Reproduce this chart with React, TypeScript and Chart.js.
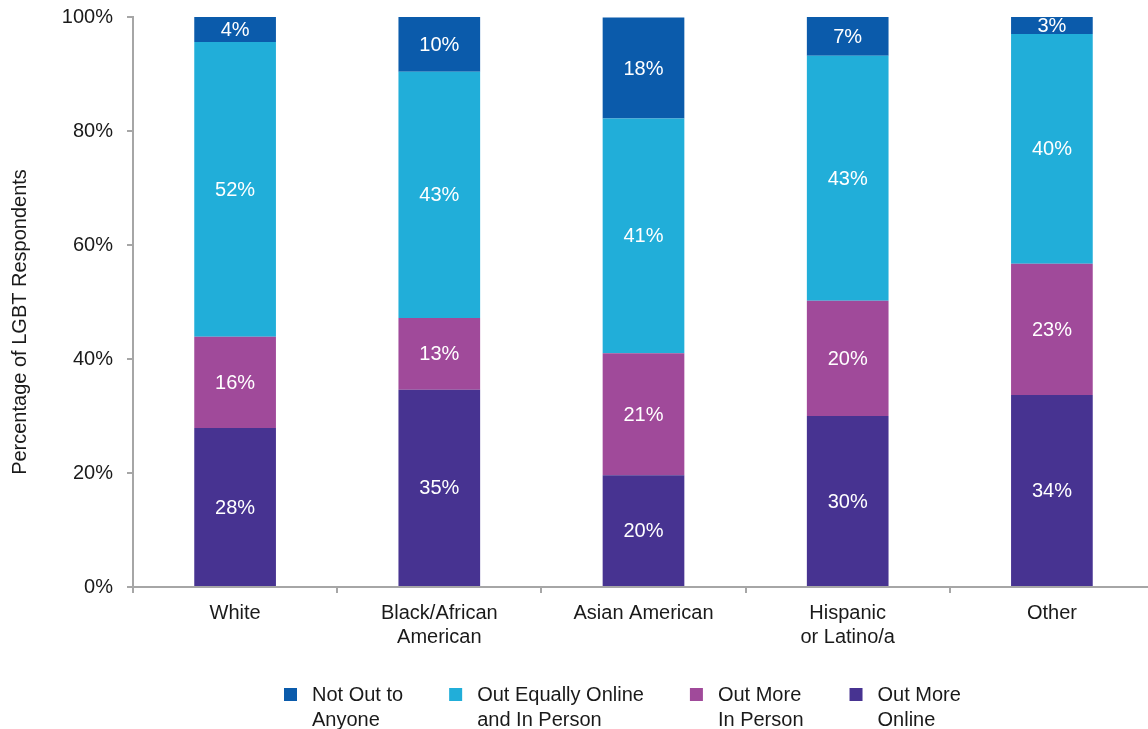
import React, { useEffect, useRef } from "react";
import { Chart, registerables } from "chart.js";

Chart.register(...registerables);

// ---- Data ----
const categories: string[][] = [
  ["White"],
  ["Black/African", "American"],
  ["Asian American"],
  ["Hispanic", "or Latino/a"],
  ["Other"],
];
const outMoreOnline = [27.9, 34.6, 19.6, 30.0, 33.7];
const outMoreInPerson = [16.0, 12.6, 21.4, 20.2, 23.0];
const outEquallyOnlineInPerson = [51.7, 43.2, 41.2, 43.0, 40.3];
const notOutToAnyone = [4.4, 9.6, 17.7, 6.8, 3.0];

const seriesLabels = [
  "Out More Online",
  "Out More In Person",
  "Out Equally Online and In Person",
  "Not Out to Anyone",
];
const legendLines: string[][] = [
  ["Out More", "Online"],
  ["Out More", "In Person"],
  ["Out Equally Online", "and In Person"],
  ["Not Out to", "Anyone"],
];
const seriesColors = ["#473391", "#a04a9a", "#21aed9", "#0b5bab"];
const yTicks = [0, 20, 40, 60, 80, 100];
const yTitle = "Percentage of LGBT Respondents";

const FONT = "'Liberation Sans', Arial, sans-serif";
const TEXT = "#1a1a1a";
const AXIS = "#a6a6a6";

const labelsPlugin = {
  id: "segLabels",
  afterDatasetsDraw(chart: any) {
    const ctx = chart.ctx;
    ctx.save();
    ctx.fillStyle = "#ffffff";
    ctx.font = `20px ${FONT}`;
    ctx.textAlign = "center";
    ctx.textBaseline = "middle";
    chart.data.datasets.forEach((ds: any, i: number) => {
      const meta = chart.getDatasetMeta(i);
      meta.data.forEach((el: any, j: number) => {
        const v = ds.data[j] as number;
        const y = (el.y + el.base) / 2;
        ctx.fillText(`${Math.round(v)}%`, el.x, y + 1);
      });
    });
    ctx.restore();
  },
};

const decorPlugin = {
  id: "decor",
  afterDraw(chart: any) {
    const ctx = chart.ctx;
    const area = chart.chartArea;
    ctx.save();
    // y-axis title
    ctx.fillStyle = TEXT;
    ctx.font = `20px ${FONT}`;
    ctx.textAlign = "center";
    ctx.textBaseline = "middle";
    ctx.translate(20, (area.top + area.bottom) / 2 + 20);
    ctx.rotate(-Math.PI / 2);
    ctx.fillText(yTitle, 0, 0);
    ctx.restore();

    // legend (reverse of stack order)
    ctx.save();
    ctx.font = `20px ${FONT}`;
    ctx.textAlign = "left";
    ctx.textBaseline = "middle";
    const n = chart.data.datasets.length;
    let x = area.left + 151;
    const y0 = area.bottom + 108;
    const box = 13;
    for (let k = n - 1; k >= 0; k--) {
      const ds = chart.data.datasets[k];
      const lines = legendLines[k];
      ctx.fillStyle = ds.backgroundColor;
      ctx.fillRect(x, y0 - 7, box, box);
      ctx.fillStyle = TEXT;
      let w = 0;
      lines.forEach((ln, li) => {
        ctx.fillText(ln, x + 28, y0 + li * 25);
        w = Math.max(w, ctx.measureText(ln).width);
      });
      x = x + 28 + w + 46;
    }
    ctx.restore();
  },
};

export default function App() {
  const ref = useRef<HTMLCanvasElement | null>(null);
  useEffect(() => {
    if (!ref.current) return;
    const values = [outMoreOnline, outMoreInPerson, outEquallyOnlineInPerson, notOutToAnyone];
    const chart = new Chart(ref.current, {
      type: "bar",
      data: {
        labels: categories as any,
        datasets: values.map((d, i) => ({
          label: seriesLabels[i],
          data: d,
          backgroundColor: seriesColors[i],
          borderWidth: 0,
          categoryPercentage: 1,
          barPercentage: 0.4,
        })),
      },
      options: {
        responsive: false,
        animation: false,
        devicePixelRatio: 1,
        layout: { padding: { top: 17, right: 6, left: 0, bottom: 0 } },
        plugins: {
          legend: { display: false },
          tooltip: { enabled: false },
        },
        scales: {
          x: {
            stacked: true,
            grid: {
              drawOnChartArea: false,
              offset: true,
              tickLength: 6,
              color: AXIS,
              lineWidth: 2,
            },
            border: { color: AXIS, width: 2 },
            ticks: {
              color: TEXT,
              font: { family: FONT, size: 20, lineHeight: 1.2 },
              padding: 8,
              maxRotation: 0,
              autoSkip: false,
            },
            afterFit: (s: any) => {
              s.height = 142;
              s.paddingLeft = 0;
              s.paddingRight = 0;
            },
          },
          y: {
            stacked: true,
            min: 0,
            max: 100,
            afterBuildTicks: (s: any) => {
              s.ticks = yTicks.map((v) => ({ value: v }));
            },
            grid: {
              drawOnChartArea: false,
              tickLength: 6,
              color: AXIS,
              lineWidth: 2,
            },
            border: { color: AXIS, width: 2 },
            ticks: {
              color: TEXT,
              font: { family: FONT, size: 20 },
              padding: 14,
              callback: (v: any) => `${v}%`,
            },
            afterFit: (s: any) => {
              s.width = 133;
              s.paddingTop = 0;
              s.paddingBottom = 0;
            },
          },
        },
      },
      plugins: [labelsPlugin, decorPlugin],
    });
    return () => chart.destroy();
  }, []);

  return (
    <div
      style={{
        position: "absolute",
        left: 0,
        top: 0,
        width: 1148,
        height: 729,
        overflow: "hidden",
        background: "#ffffff",
      }}
    >
      <canvas ref={ref} width={1160} height={729} style={{ width: 1160, height: 729, display: "block" }} />
    </div>
  );
}
